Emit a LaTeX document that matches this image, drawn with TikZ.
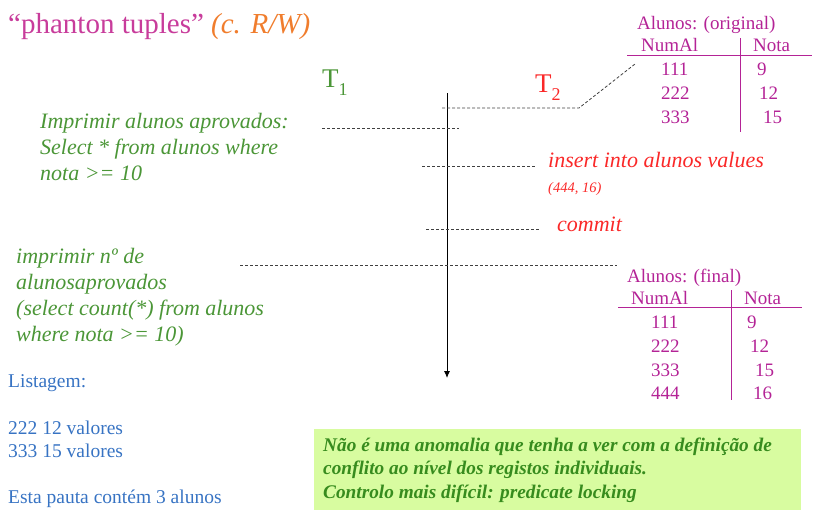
\documentclass[tikz,border=0pt]{standalone}
\usepackage{fontspec}
\setmainfont{Liberation Serif}
\usetikzlibrary{arrows.meta}

\definecolor{titlemag}{RGB}{200,60,155}
\definecolor{titleorg}{RGB}{240,125,45}
\definecolor{qgreen}{RGB}{75,150,55}
\definecolor{wred}{RGB}{250,40,40}
\definecolor{tblmag}{RGB}{180,35,150}
\definecolor{lblue}{RGB}{55,115,195}
\definecolor{notefill}{RGB}{216,252,160}
\definecolor{notetext}{RGB}{55,140,30}

\begin{document}
\begin{tikzpicture}
    [
        x=1pt, y=-1pt,
        txt/.style={anchor=base west, inner sep=0pt},
        query/.style={txt, text=qgreen, font=\fontsize{22}{26}\selectfont\itshape},
        write/.style={txt, text=wred, font=\fontsize{22}{24}\selectfont\itshape},
        tbl/.style={txt, text=tblmag, font=\fontsize{19}{23}\selectfont},
        listing/.style={txt, text=lblue, font=\fontsize{19.5}{23}\selectfont},
        note/.style={txt, text=notetext, font=\fontsize{19.3}{23}\selectfont\bfseries\itshape},
        tname/.style={txt, font=\fontsize{27}{30}\selectfont},
        tick/.style={draw=black!75, dash pattern=on 3pt off 2pt, line width=0.8pt},
        rule/.style={draw=tblmag, line width=1pt},
    ]
    \useasboundingbox (0,0) rectangle (821,512);

    % title
    \node (title) at (8,33) [txt, text=titlemag, font=\fontsize{29}{32}\selectfont]
        {``phanton tuples'' \textcolor{titleorg}{\itshape (c. R/W)}};

    % transactions
    \node (t1) at (322,87) [tname, text=qgreen] {T\raisebox{-0.3em}{\fontsize{18}{18}\selectfont 1}};
    \node (t2) at (535,92) [tname, text=wred] {T\raisebox{-0.3em}{\fontsize{18}{18}\selectfont 2}};

    % time axis
    \coordinate (top) at (447,93);
    \coordinate (bottom) at (447,378);
    \draw [-{Latex[length=7pt,width=6pt]}, line width=0.9pt] (top) -- (bottom);

    % T1 operations
    \node (q1a) at (40,128) [query] {Imprimir alunos aprovados:};
    \node (q1b) at (40,154) [query] {Select * from alunos where};
    \node (q1c) at (40,180) [query] {nota >= 10};

    \node (q2a) at (16,263) [query] {imprimir nº de};
    \node (q2b) at (16,289) [query] {alunosaprovados};
    \node (q2c) at (16,315) [query] {(select count(*) from alunos};
    \node (q2d) at (16,341) [query] {where nota >= 10)};

    % T2 operations
    \node (ins) at (548,167) [write] {insert into alunos values};
    \node (val) at (548,192) [write, font=\fontsize{14.5}{16}\selectfont\itshape] {(444, 16)};
    \node (com) at (557,231) [write] {commit};

    % ticks on the time axis
    \coordinate (m1a) at (442,108);
    \coordinate (m1b) at (579,108);
    \coordinate (m1c) at (635,64);
    \coordinate (m2a) at (322,128);
    \coordinate (m2b) at (459,128);
    \coordinate (m3a) at (422,166);
    \coordinate (m3b) at (536,166);
    \coordinate (m4a) at (426,229);
    \coordinate (m4b) at (540,229);
    \coordinate (m5a) at (240,265);
    \coordinate (m5b) at (617,265);

    \draw [tick] (m1a) -- (m1b) -- (m1c);
    \draw [tick] (m2a) -- (m2b);
    \draw [tick] (m3a) -- (m3b);
    \draw [tick] (m4a) -- (m4b);
    \draw [tick] (m5a) -- (m5b);

    % table before
    \node (orig) at (637,29) [tbl] {Alunos: (original)};
    \node (oh1) at (641,51) [tbl] {NumAl};
    \node (oh2) at (753,51) [tbl] {Nota};
    \node (o11) at (661,75) [tbl] {111};
    \node (o12) at (757,75) [tbl] {9};
    \node (o21) at (661,99) [tbl] {222};
    \node (o22) at (759,99) [tbl] {12};
    \node (o31) at (661,123) [tbl] {333};
    \node (o32) at (763,123) [tbl] {15};
    \coordinate (ol) at (627,55);
    \coordinate (or) at (812,55);
    \coordinate (ot) at (740,38);
    \coordinate (ob) at (740,132);
    \draw [rule] (ol) -- (or);
    \draw [rule] (ot) -- (ob);

    % table after
    \node (fin) at (627,282) [tbl] {Alunos: (final)};
    \node (fh1) at (631,304) [tbl] {NumAl};
    \node (fh2) at (744,304) [tbl] {Nota};
    \node (f11) at (651,328) [tbl] {111};
    \node (f12) at (747,328) [tbl] {9};
    \node (f21) at (651,352) [tbl] {222};
    \node (f22) at (750,352) [tbl] {12};
    \node (f31) at (651,376) [tbl] {333};
    \node (f32) at (755,376) [tbl] {15};
    \node (f41) at (651,399) [tbl] {444};
    \node (f42) at (753,399) [tbl] {16};
    \coordinate (fl) at (618,307);
    \coordinate (fr) at (802,307);
    \coordinate (ft) at (731,290);
    \coordinate (fb) at (731,400);
    \draw [rule] (fl) -- (fr);
    \draw [rule] (ft) -- (fb);

    % output of T1
    \node (l1) at (8,387) [listing] {Listagem:};
    \node (l2) at (8,434) [listing] {222 12 valores};
    \node (l3) at (8,457) [listing] {333 15 valores};
    \node (l4) at (8,503) [listing] {Esta pauta contém 3 alunos};

    % remark
    \fill [notefill] (314,429) rectangle (801,510);
    \node (n1) at (323,451) [note] {Não é uma anomalia que tenha a ver com a definição de};
    \node (n2) at (323,474) [note] {conflito ao nível dos registos individuais.};
    \node (n3) at (323,498) [note] {Controlo mais difícil: predicate locking};

\end{tikzpicture}
\end{document}
